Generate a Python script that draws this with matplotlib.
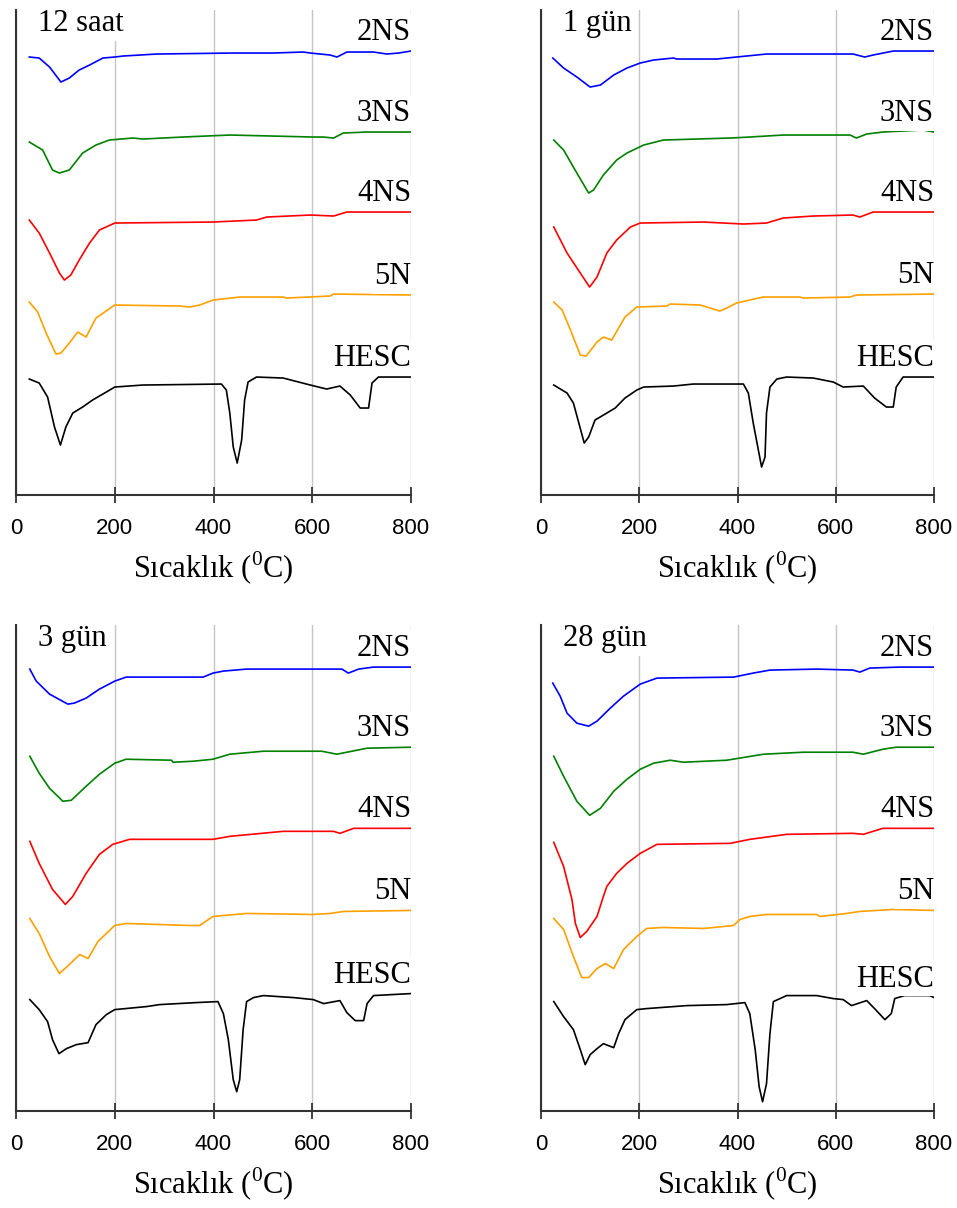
import matplotlib.pyplot as plt

plt.rcParams["font.family"] = "Liberation Serif"
plt.rcParams["mathtext.fontset"] = "custom"
plt.rcParams["mathtext.rm"] = "Liberation Serif"

SERIES = ["2NS", "3NS", "4NS", "5N", "HESC"]
COLORS = ["#0000ff", "#008000", "#ff0000", "#ffa000", "#000000"]
PANELS = ["12 saat", "1 gün", "3 gün", "28 gün"]
XTICKS = [0, 200, 400, 600, 800]

# --- 12 saat ---
h12_2ns_t = [27, 47, 68, 91, 108, 128, 149, 176, 200, 217, 285, 440, 520, 582, 596, 636, 650, 670, 724, 751, 775, 800]
h12_2ns_y = [43.8, 43.7, 42.8, 41.3, 41.7, 42.5, 43.0, 43.7, 43.8, 43.9, 44.1, 44.2, 44.2, 44.3, 44.2, 44.0, 43.8, 44.3, 44.3, 44.1, 44.2, 44.4]
h12_3ns_t = [27, 54, 74, 88, 108, 135, 162, 189, 237, 257, 338, 433, 602, 622, 643, 663, 710, 800]
h12_3ns_y = [35.3, 34.5, 32.5, 32.2, 32.5, 34.2, 35.0, 35.5, 35.7, 35.6, 35.8, 36.0, 35.8, 35.8, 35.7, 36.2, 36.3, 36.3]
h12_4ns_t = [27, 47, 68, 88, 98, 111, 128, 149, 169, 200, 399, 487, 508, 596, 643, 670, 800]
h12_4ns_y = [27.5, 26.2, 24.2, 22.2, 21.5, 22.0, 23.5, 25.2, 26.5, 27.2, 27.3, 27.5, 27.8, 28.0, 27.9, 28.3, 28.3]
h12_5n_t = [27, 44, 61, 81, 91, 108, 125, 142, 162, 200, 332, 352, 372, 399, 453, 541, 548, 636, 643, 800]
h12_5n_y = [19.3, 18.3, 16.2, 14.1, 14.2, 15.2, 16.3, 15.8, 17.7, 19.0, 18.9, 18.8, 19.0, 19.5, 19.8, 19.8, 19.7, 19.9, 20.1, 20.0]
h12_hesc_t = [27, 47, 64, 78, 90, 101, 115, 135, 155, 183, 200, 257, 416, 426, 433, 440, 448, 457, 463, 470, 487,
              541, 596, 629, 656, 677, 697, 714, 721, 734, 800]
h12_hesc_y = [11.6, 11.2, 9.8, 6.8, 5.0, 6.8, 8.2, 8.8, 9.5, 10.3, 10.8, 11.0, 11.1, 10.5, 8.2, 4.8, 3.2, 5.5, 9.5, 11.3, 11.8,
              11.7, 11.0, 10.6, 10.9, 10.0, 8.7, 8.7, 11.2, 11.8, 11.8]

# --- 1 gün ---
d1_2ns_t = [24, 46, 73, 100, 121, 148, 175, 202, 229, 270, 276, 358, 398, 459, 635, 659, 676, 717, 800]
d1_2ns_y = [43.7, 42.7, 41.8, 40.8, 41.0, 42.0, 42.7, 43.2, 43.5, 43.7, 43.6, 43.6, 43.8, 44.1, 44.1, 43.8, 44.0, 44.4, 44.4]
d1_3ns_t = [26, 46, 73, 97, 107, 127, 154, 175, 209, 249, 385, 425, 493, 629, 642, 663, 696, 778, 800]
d1_3ns_y = [35.5, 34.5, 32.2, 30.2, 30.5, 32.0, 33.5, 34.2, 35.0, 35.5, 35.7, 35.8, 36.0, 36.0, 35.7, 36.1, 36.3, 36.5, 36.3]
d1_4ns_t = [26, 53, 80, 99, 114, 134, 154, 182, 202, 331, 412, 459, 493, 554, 635, 649, 676, 800]
d1_4ns_y = [26.8, 24.2, 22.2, 20.8, 21.8, 24.2, 25.5, 26.8, 27.2, 27.3, 27.1, 27.2, 27.7, 27.9, 28.0, 27.8, 28.3, 28.3]
d1_5n_t = [26, 43, 60, 80, 92, 114, 127, 144, 171, 195, 256, 263, 324, 351, 364, 378, 398, 452, 527, 534, 629, 642, 800]
d1_5n_y = [19.3, 18.5, 16.5, 14.0, 13.9, 15.3, 15.8, 15.5, 17.8, 18.8, 18.9, 19.1, 19.0, 18.6, 18.4, 18.7, 19.2, 19.8,
           19.8, 19.7, 19.8, 20.0, 20.1]
d1_hesc_t = [26, 53, 66, 77, 88, 97, 110, 134, 151, 171, 195, 209, 270, 310, 412, 422, 432, 449, 456, 459, 466, 480,
             500, 554, 595, 615, 656, 679, 703, 717, 723, 737, 800]
d1_hesc_y = [11.0, 10.2, 9.2, 7.2, 5.2, 5.8, 7.5, 8.2, 8.7, 9.7, 10.5, 10.8, 10.9, 11.1, 11.1, 10.2, 7.2, 2.8, 3.8, 8.2,
             10.8, 11.6, 11.8, 11.7, 11.3, 10.8, 10.9, 9.7, 8.8, 8.8, 10.8, 11.8, 11.8]

# --- 3 gün ---
d3_2ns_t = [28, 41, 68, 105, 118, 142, 169, 200, 223, 379, 399, 420, 467, 660, 673, 694, 724, 800]
d3_2ns_y = [44.1, 42.9, 41.6, 40.6, 40.7, 41.2, 42.1, 42.9, 43.3, 43.3, 43.7, 43.9, 44.1, 44.1, 43.7, 44.1, 44.3, 44.3]
d3_3ns_t = [28, 47, 68, 95, 112, 142, 169, 200, 223, 315, 318, 359, 399, 433, 501, 619, 650, 670, 711, 800]
d3_3ns_y = [35.4, 33.7, 32.2, 30.9, 31.0, 32.4, 33.6, 34.7, 35.1, 35.0, 34.8, 34.9, 35.1, 35.6, 35.9, 35.9, 35.6, 35.8, 36.2, 36.3]
d3_4ns_t = [28, 47, 74, 100, 115, 142, 169, 196, 230, 399, 433, 541, 643, 656, 684, 800]
d3_4ns_y = [26.9, 24.7, 22.1, 20.6, 21.4, 23.7, 25.6, 26.6, 27.1, 27.1, 27.4, 27.9, 27.9, 27.7, 28.2, 28.2]
d3_5n_t = [28, 47, 68, 88, 108, 129, 146, 166, 200, 223, 352, 372, 399, 467, 602, 636, 663, 800]
d3_5n_y = [19.2, 17.7, 15.4, 13.7, 14.6, 15.6, 15.2, 16.9, 18.5, 18.7, 18.5, 18.5, 19.4, 19.7, 19.6, 19.7, 19.9, 20.0]
d3_hesc_t = [28, 47, 64, 74, 87, 102, 122, 146, 162, 183, 200, 264, 291, 365, 409, 420, 430, 440, 447, 453, 460, 467,
             481, 501, 562, 602, 623, 656, 670, 687, 704, 711, 724, 800]
d3_hesc_y = [11.1, 10.1, 8.9, 7.1, 5.7, 6.2, 6.6, 6.8, 8.6, 9.6, 10.1, 10.4, 10.6, 10.8, 10.9, 9.7, 7.1, 3.1, 1.9, 3.1,
             8.1, 10.9, 11.3, 11.5, 11.3, 11.1, 10.7, 11.0, 9.8, 9.0, 9.0, 10.7, 11.5, 11.7]

# --- 28 gün ---
d28_2ns_t = [24, 39, 53, 73, 97, 114, 141, 168, 202, 236, 392, 432, 466, 561, 635, 649, 669, 730, 800]
d28_2ns_y = [42.7, 41.4, 39.7, 38.7, 38.4, 38.9, 40.2, 41.4, 42.6, 43.2, 43.3, 43.7, 44.0, 44.1, 44.0, 43.8, 44.2, 44.3, 44.3]
d28_3ns_t = [26, 46, 73, 99, 121, 148, 175, 202, 229, 263, 290, 378, 453, 534, 635, 656, 696, 723, 800]
d28_3ns_y = [35.4, 33.4, 30.9, 29.5, 30.2, 31.9, 33.1, 34.1, 34.7, 35.0, 34.8, 35.0, 35.6, 35.8, 35.8, 35.6, 36.1, 36.3, 36.3]
d28_4ns_t = [26, 46, 63, 70, 80, 93, 114, 127, 134, 154, 175, 202, 236, 385, 425, 500, 635, 656, 696, 800]
d28_4ns_y = [26.8, 24.4, 21.1, 18.7, 17.3, 17.9, 19.4, 21.4, 22.4, 23.7, 24.7, 25.7, 26.6, 26.7, 27.1, 27.6, 27.7, 27.6, 28.2, 28.2]
d28_5n_t = [26, 46, 66, 83, 97, 114, 131, 148, 168, 195, 215, 249, 331, 392, 405, 425, 459, 561, 568, 622, 649, 717, 800]
d28_5n_y = [19.2, 18.1, 15.4, 13.3, 13.3, 14.2, 14.7, 14.2, 16.1, 17.4, 18.2, 18.3, 18.2, 18.5, 19.1, 19.4, 19.6, 19.6,
            19.4, 19.7, 19.9, 20.1, 20.0]
d28_hesc_t = [26, 46, 66, 80, 90, 100, 114, 127, 148, 158, 171, 195, 215, 297, 378, 415, 425, 436, 444, 451, 459, 466,
              473, 500, 561, 595, 615, 632, 663, 679, 700, 713, 720, 740, 791, 800]
d28_hesc_y = [10.9, 9.4, 8.1, 6.1, 4.6, 5.6, 6.2, 6.7, 6.3, 7.7, 9.1, 10.1, 10.2, 10.5, 10.6, 10.8, 9.7, 6.1, 2.4, 0.9,
              2.7, 7.7, 10.9, 11.5, 11.5, 11.2, 11.1, 10.5, 11.0, 10.2, 9.1, 9.7, 11.2, 11.5, 11.5, 11.3]

panel_curves = [
    [(h12_2ns_t, h12_2ns_y), (h12_3ns_t, h12_3ns_y), (h12_4ns_t, h12_4ns_y), (h12_5n_t, h12_5n_y), (h12_hesc_t, h12_hesc_y)],
    [(d1_2ns_t, d1_2ns_y), (d1_3ns_t, d1_3ns_y), (d1_4ns_t, d1_4ns_y), (d1_5n_t, d1_5n_y), (d1_hesc_t, d1_hesc_y)],
    [(d3_2ns_t, d3_2ns_y), (d3_3ns_t, d3_3ns_y), (d3_4ns_t, d3_4ns_y), (d3_5n_t, d3_5n_y), (d3_hesc_t, d3_hesc_y)],
    [(d28_2ns_t, d28_2ns_y), (d28_3ns_t, d28_3ns_y), (d28_4ns_t, d28_4ns_y), (d28_5n_t, d28_5n_y), (d28_hesc_t, d28_hesc_y)],
]

# axes boxes in figure fraction: left, bottom, width, height
axes_boxes = [
    [0.0167, 0.5902, 0.4128, 0.4015],
    [0.5653, 0.5902, 0.4107, 0.4015],
    [0.0167, 0.0805, 0.4128, 0.4021],
    [0.5653, 0.0805, 0.4107, 0.4021],
]

fig = plt.figure(figsize=(9.57, 12.08), dpi=100)
white_box = dict(facecolor="white", edgecolor="none", pad=2)

for box, title, curves in zip(axes_boxes, PANELS, panel_curves):
    ax = fig.add_axes(box)
    ax.set_xlim(0, 800)
    ax.set_ylim(0, 48.5)

    for (t, y), name, color in zip(curves, SERIES, COLORS):
        ax.plot(t, y, color=color, linewidth=1.2, zorder=2)
        ax.text(800, y[-1] + 1.1, name, ha="right", va="baseline", fontsize=22,
                bbox=white_box, zorder=3)

    ax.text(0.055, 0.957, title, transform=ax.transAxes, ha="left", va="baseline",
            fontsize=22, bbox=white_box, zorder=3)

    ax.spines["top"].set_visible(False)
    ax.spines["right"].set_visible(False)
    for side in ("left", "bottom"):
        ax.spines[side].set_linewidth(1.5)
        ax.spines[side].set_color("#333333")

    ax.set_yticks([])
    ax.set_xticks(XTICKS)
    ax.tick_params(axis="x", direction="inout", length=11, width=1.3, color="#333333",
                   labelsize=16, pad=11)
    for lab in ax.get_xticklabels():
        lab.set_family("Liberation Sans")
    ax.xaxis.grid(True, color="#c4c4c4", linewidth=1.0)
    ax.set_axisbelow(True)

    ax.set_xlabel(r"Sıcaklık ($^{0}$C)", fontsize=22)
    ax.xaxis.set_label_coords(0.5, -0.171)
    ax.xaxis.label.set_va("baseline")

fig.savefig("out.png", dpi=100)
